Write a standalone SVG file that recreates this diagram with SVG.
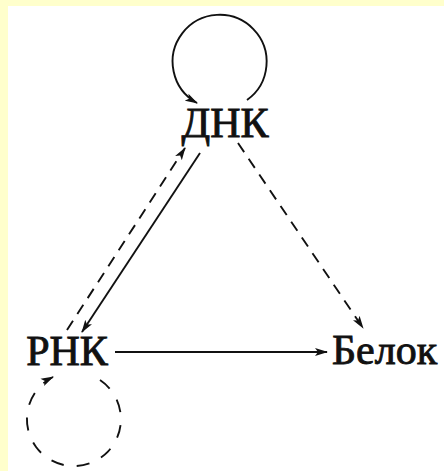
<svg xmlns="http://www.w3.org/2000/svg" width="444" height="471" viewBox="0 0 444 471">
<defs>
<marker id="ah" viewBox="0 0 13 9" refX="12" refY="4.5" markerWidth="13" markerHeight="9" markerUnits="userSpaceOnUse" orient="auto">
<path d="M0,0.5 L13,4.5 L0,8.5 L3,4.5 Z" fill="#111"/>
</marker>
<style>
.lbl{font-family:"Liberation Serif","DejaVu Serif","Times New Roman",serif;font-size:42px;fill:#111;stroke:#111;stroke-width:0.9}
.ln{fill:none;stroke:#111;stroke-width:1.9}
.ds{stroke-dasharray:11 8}
.dl{stroke-dasharray:13 13}
</style>
</defs>
<rect x="0" y="0" width="444" height="471" fill="#FFFFCC"/>
<rect x="8" y="6" width="436" height="465" fill="#FFFFFF"/>
<g id="connectors">
<path class="ln" d="M247,100 A47,47 0 1 0 197,103" marker-end="url(#ah)"/>
<path class="ln ds" d="M67,330 L185,148" marker-end="url(#ah)"/>
<path class="ln" d="M200,153 L82,332" marker-end="url(#ah)"/>
<path class="ln ds" d="M238,143 L363,328" marker-end="url(#ah)"/>
<path class="ln" d="M115,352 L327,352" marker-end="url(#ah)"/>
<path class="ln dl" d="M100,380 A47,47 0 1 1 53,377" marker-end="url(#ah)"/>
</g>
<g id="dnk"><text class="lbl" x="225" y="137" text-anchor="middle">ДНК</text></g>
<g id="rnk"><text class="lbl" x="67" y="365" text-anchor="middle">РНК</text></g>
<g id="belok"><text class="lbl" x="332" y="364">Белок</text></g>
</svg>
